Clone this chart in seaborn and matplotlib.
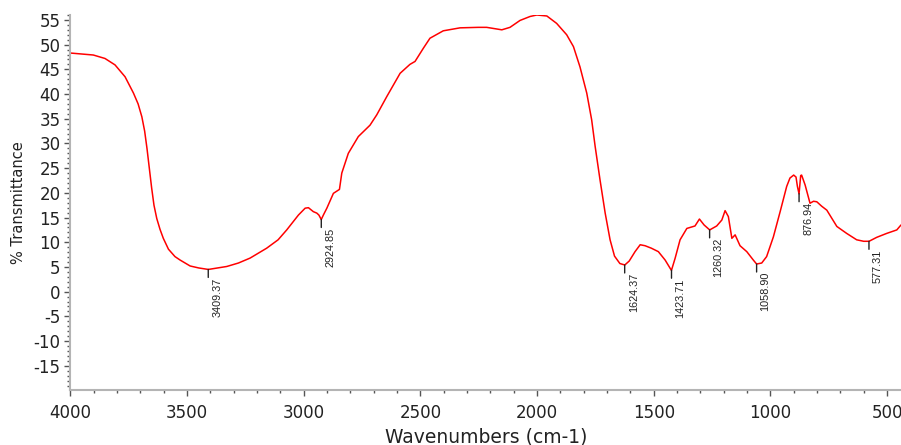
import numpy as np
import pandas as pd
import matplotlib
matplotlib.use("Agg")
import matplotlib.pyplot as plt
from matplotlib.ticker import MultipleLocator
import seaborn as sns

# 光谱数据
wavenumbers = [4000, 3950, 3902, 3852, 3809, 3766, 3730, 3710, 3694, 3682,
               3672, 3662, 3652, 3642, 3630, 3616, 3602, 3580, 3552, 3530,
               3487, 3450, 3409, 3370, 3330, 3280, 3230, 3159, 3110, 3073,
               3023, 2994, 2980, 2959, 2944, 2935, 2925, 2915, 2901, 2873,
               2847, 2837, 2809, 2766, 2716, 2687, 2644, 2587, 2545, 2523,
               2487, 2459, 2402, 2330, 2252, 2216, 2151, 2116, 2073, 2030,
               2001, 1958, 1916, 1873, 1844, 1816, 1787, 1766, 1751, 1730,
               1708, 1687, 1668, 1645, 1624, 1605, 1580, 1558, 1537, 1510,
               1480, 1451, 1424, 1408, 1387, 1358, 1323, 1304, 1284, 1260,
               1230, 1208, 1194, 1180, 1165, 1151, 1130, 1101, 1073, 1059,
               1037, 1016, 987, 958, 930, 916, 900, 890, 884, 877,
               870, 866, 851, 830, 815, 801, 780, 758, 715, 673,
               630, 600, 577, 560, 544, 501, 458, 440]
transmittance = [48.3, 48.1, 47.9, 47.2, 45.9, 43.5, 40.2, 38.0, 35.4, 32.5,
                 29.0, 25.0, 21.0, 17.5, 14.8, 12.6, 10.8, 8.6, 7.1, 6.4,
                 5.2, 4.8, 4.5, 4.8, 5.1, 5.8, 6.8, 8.8, 10.5, 12.5,
                 15.5, 16.9, 17.0, 16.2, 15.9, 15.5, 14.6, 15.6, 16.9, 19.9,
                 20.7, 24.0, 28.0, 31.4, 33.7, 35.8, 39.5, 44.2, 46.0, 46.6,
                 49.3, 51.3, 52.8, 53.4, 53.5, 53.5, 53.0, 53.5, 54.9, 55.7,
                 56.0, 55.8, 54.3, 52.0, 49.6, 45.5, 40.2, 34.8, 29.4, 22.6,
                 15.9, 10.5, 7.2, 5.7, 5.4, 6.2, 8.1, 9.5, 9.3, 8.8,
                 8.1, 6.4, 4.3, 6.8, 10.5, 12.8, 13.3, 14.7, 13.5, 12.5,
                 13.3, 14.5, 16.4, 15.2, 10.8, 11.5, 9.3, 8.1, 6.4, 5.6,
                 5.8, 7.1, 11.1, 16.2, 21.3, 23.0, 23.6, 23.2, 21.3, 19.8,
                 23.5, 23.6, 21.6, 17.9, 18.3, 18.2, 17.3, 16.5, 13.2, 11.8,
                 10.5, 10.2, 10.2, 10.6, 11.0, 11.8, 12.5, 13.5]

# 峰位标注
peak_positions = [3409.37, 2924.85, 1624.37, 1423.71, 1260.32, 1058.90, 876.94, 577.31]
peak_labels = ["3409.37", "2924.85", "1624.37", "1423.71", "1260.32", "1058.90", "876.94", "577.31"]

df = pd.DataFrame({"wn": wavenumbers, "T": transmittance})

sns.set_style("ticks")
plt.rcParams["font.family"] = ["DejaVu Sans"]
plt.rcParams["axes.unicode_minus"] = False

fig = plt.figure(figsize=(9.01, 4.45), dpi=100)
ax = fig.add_axes([0.0782, 0.1236, 0.9218, 0.8427])

sns.lineplot(data=df, x="wn", y="T", ax=ax, color="#ff0000", lw=1.1, sort=False)

ax.set_xlim(4000, 440)
ax.set_ylim(-19.9, 56.0)

ax.xaxis.set_major_locator(MultipleLocator(500))
ax.xaxis.set_minor_locator(MultipleLocator(100))
ax.yaxis.set_minor_locator(MultipleLocator(1))
ax.set_yticks(np.arange(-15, 56, 5))

ax.tick_params(axis="both", which="major", length=4, width=1, color="#555555",
               labelsize=12, labelcolor="#222222")
ax.tick_params(axis="x", which="major", pad=6)
ax.tick_params(axis="y", which="major", pad=3)
ax.tick_params(axis="both", which="minor", length=2, width=1, color="#555555")

for side in ["top", "right"]:
    ax.spines[side].set_visible(False)
for side in ["left", "bottom"]:
    ax.spines[side].set_color("#b4b4b4")
    ax.spines[side].set_linewidth(1.5)

ax.set_xlabel("Wavenumbers (cm-1)", fontsize=13.5, color="#222222")
ax.set_ylabel("% Transmittance", fontsize=10.5, color="#222222")
ax.xaxis.set_label_coords(0.5, -0.1)
ax.yaxis.set_label_coords(-0.063, 0.5)
ax.xaxis.label.set_va("top")
ax.yaxis.label.set_va("center")

# 峰位标注: 小竖线 + 竖排文字
wn_arr = np.array(wavenumbers)[::-1]
t_arr = np.array(transmittance)[::-1]
for pos, lab in zip(peak_positions, peak_labels):
    tv = np.interp(pos, wn_arr, t_arr)
    ax.annotate("", xy=(pos, tv), xytext=(0, -8), textcoords="offset pixels",
                arrowprops=dict(arrowstyle="-", color="#222222", lw=1.0,
                                shrinkA=0, shrinkB=0))
    ax.annotate(lab, xy=(pos, tv), xytext=(9, -8), textcoords="offset pixels",
                rotation=90, ha="center", va="top", fontsize=7.8,
                family=["Liberation Sans Narrow", "Liberation Sans", "DejaVu Sans"],
                color="#222222")

fig.savefig("out.png", dpi=100)
